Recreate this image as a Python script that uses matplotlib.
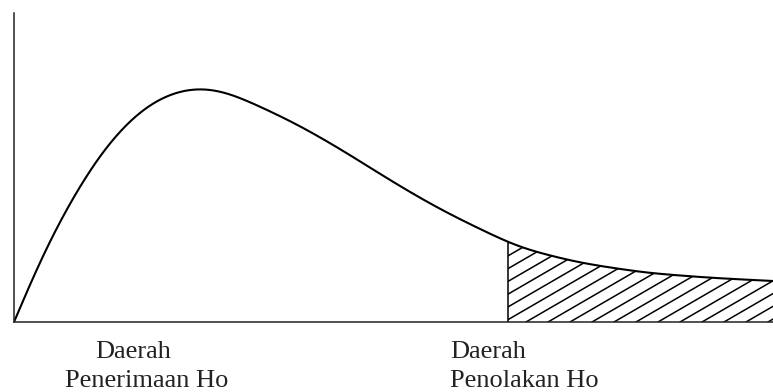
import matplotlib
matplotlib.use("Agg")
import matplotlib.pyplot as plt
import numpy as np

# curve (x along axis, y height), same units as pixels
curve_x = [0, 16, 29, 46, 63, 79, 94, 119, 136, 153, 169, 186, 203, 219, 236,
           253, 269, 299, 333, 366, 399, 433, 466, 493, 506, 566, 633, 699, 759]
curve_y = [0, 39, 69, 102, 132, 158, 179, 206, 219, 228, 233, 235, 233, 228, 220,
           212, 205, 189, 169, 148, 128, 109, 93, 80, 74, 59, 49, 44, 41]
critical_x = 494

label_accept = ["Daerah", "Penerimaan Ho"]
label_reject = ["Daerah", "Penolakan Ho"]

fig = plt.figure(figsize=(7.73, 3.92), dpi=100)
ax = fig.add_axes([14 / 773, 70 / 392, 759 / 773, 309 / 392])
ax.set_xlim(0, 759)
ax.set_ylim(0, 309)

# smooth the read points (gaussian over a fine grid, odd reflection at ends)
xs = np.arange(0, 760, 1.0)
yl = np.interp(xs, curve_x, curve_y)
pad = 60
left = -yl[1:pad + 1][::-1]
right = 2 * yl[-1] - yl[-pad - 1:-1][::-1]
ext = np.concatenate([left, yl, right])
g = np.exp(-0.5 * (np.arange(-pad, pad + 1) / 18.0) ** 2)
g /= g.sum()
ys = np.convolve(ext, g, mode="valid")
ax.plot(xs, ys, color="black", lw=1.5, solid_capstyle="round")

# rejection region outline
yc = np.interp(critical_x, xs, ys)
ax.plot([critical_x, critical_x], [0, yc], color="black", lw=1.1)
mask = xs >= critical_x
fx = np.concatenate([[critical_x], xs[mask]])
fy = np.concatenate([[yc], ys[mask]])
poly = ax.fill_between(fx, 0, fy, facecolor="none", lw=0)

# hand-style hatching, shallow slope
slope = 0.58
for x0 in np.arange(critical_x - 400, 800, 22):
    seg_x = np.array([x0, x0 + 500])
    ln, = ax.plot(seg_x, slope * (seg_x - x0), color="black", lw=1.1)
    ln.set_clip_path(poly.get_paths()[0], ax.transData)

for s in ["top", "right"]:
    ax.spines[s].set_visible(False)
for s in ["left", "bottom"]:
    ax.spines[s].set_linewidth(1.1)
    ax.spines[s].set_color("#222222")
ax.set_xticks([])
ax.set_yticks([])

font = dict(family="Liberation Serif", size=19, color="#222222", va="baseline",
            ha="left", clip_on=False)
ax.text(81, -36, label_accept[0], **font)
ax.text(51, -65, label_accept[1], **font)
ax.text(436, -36, label_reject[0], **font)
ax.text(436, -65, label_reject[1], **font)

fig.savefig("out.png", dpi=100)
